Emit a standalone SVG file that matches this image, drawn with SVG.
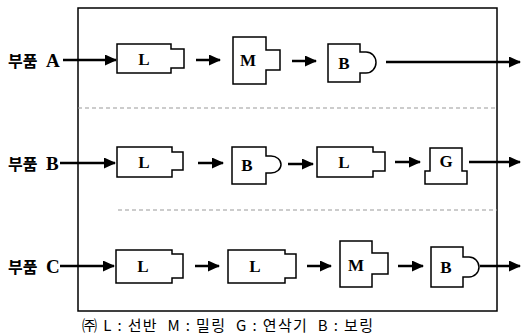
<svg xmlns="http://www.w3.org/2000/svg" width="521" height="336" viewBox="0 0 521 336">
<style>
.box{fill:none;stroke:#000;stroke-width:1.5;stroke-linejoin:miter}
.arr{stroke:#000;stroke-width:2.5;fill:none}
.lbl{font-family:"Liberation Serif",serif;font-weight:bold;font-size:17px;text-anchor:middle;dominant-baseline:central}
.part{font-family:"Noto Sans CJK KR","Liberation Serif",sans-serif;font-weight:bold;font-size:16px;dominant-baseline:central}
.serif{font-family:"Liberation Serif",serif;font-size:19px}
.sep{stroke:#999;stroke-width:1;stroke-dasharray:4 3}
.note{font-family:"Noto Sans CJK KR","Liberation Sans",sans-serif;font-size:15px}
</style>
<defs>
<marker id="ah" markerUnits="userSpaceOnUse" markerWidth="12" markerHeight="11" refX="11" refY="5.5" orient="auto">
<path d="M0,0 L12,5.5 L0,11 z" fill="#000"/>
</marker>
</defs>
<rect id="frame" x="78" y="8" width="419" height="303" fill="none" stroke="#000" stroke-width="1.5"/>
<line class="sep" x1="78" y1="108" x2="497" y2="108"/>
<line class="sep" x1="118" y1="210" x2="497" y2="210"/>

<g id="labels">
<text class="part" x="8" y="60">부품<tspan class="serif" x="46">A</tspan></text>
<text class="part" x="8" y="163">부품<tspan class="serif" x="46">B</tspan></text>
<text class="part" x="8" y="266">부품<tspan class="serif" x="46">C</tspan></text>
</g>

<g id="rowA">
<g id="A_L"><path class="box" d="M117,44 H171 V49 H184 V68 H171 V73 H117 Z"/><text class="lbl" x="144" y="59">L</text></g>
<g id="A_M"><path class="box" d="M233,37 H266 V50 H280 V70 H266 V84 H233 Z"/><text class="lbl" x="248" y="60">M</text></g>
<g id="A_B"><path class="box" d="M328,44 H360 V52 H366 A10,10.5 0 0 1 366,73 H360 V82 H328 Z"/><text class="lbl" x="344" y="63">B</text></g>
</g>

<g id="rowB">
<g id="B_L1"><path class="box" d="M117,147 H172 V152 H183 V170 H172 V177 H117 Z"/><text class="lbl" x="144" y="162">L</text></g>
<g id="B_B"><path class="box" d="M232,147 H266 V156 H271 A10,8.5 0 0 1 271,173 H266 V184 H232 Z"/><text class="lbl" x="247" y="165">B</text></g>
<g id="B_L2"><path class="box" d="M317,147 H373 V152 H385 V171 H373 V177 H317 Z"/><text class="lbl" x="344" y="162">L</text></g>
<g id="B_G"><path class="box" d="M430,148 H462 V171 H467 V184 H425 V171 H430 Z"/><text class="lbl" x="446" y="161">G</text></g>
</g>

<g id="rowC">
<g id="C_L1"><path class="box" d="M116,250 H172 V254 H183 V278 H172 V283 H116 Z"/><text class="lbl" x="143" y="266">L</text></g>
<g id="C_L2"><path class="box" d="M228,250 H285 V254 H296 V278 H285 V283 H228 Z"/><text class="lbl" x="255" y="266">L</text></g>
<g id="C_M"><path class="box" d="M340,241 H372 V253 H388 V274 H372 V287 H340 Z"/><text class="lbl" x="356" y="265">M</text></g>
<g id="C_B"><path class="box" d="M431,247 H463 V257 H469 A10,10 0 0 1 469,277 H463 V287 H431 Z"/><text class="lbl" x="446" y="267">B</text></g>
</g>

<g id="connectors">
<line class="arr" x1="63" y1="60" x2="116" y2="60" marker-end="url(#ah)"/>
<line class="arr" x1="196" y1="60" x2="220" y2="60" marker-end="url(#ah)"/>
<line class="arr" x1="292" y1="61" x2="316" y2="61" marker-end="url(#ah)"/>
<line class="arr" x1="386" y1="62" x2="520" y2="62" marker-end="url(#ah)"/>

<line class="arr" x1="60" y1="163" x2="115" y2="163" marker-end="url(#ah)"/>
<line class="arr" x1="198" y1="163" x2="223" y2="163" marker-end="url(#ah)"/>
<line class="arr" x1="288" y1="164" x2="313" y2="164" marker-end="url(#ah)"/>
<line class="arr" x1="395" y1="162" x2="420" y2="162" marker-end="url(#ah)"/>
<line class="arr" x1="469" y1="162" x2="520" y2="162" marker-end="url(#ah)"/>

<line class="arr" x1="60" y1="266" x2="114" y2="266" marker-end="url(#ah)"/>
<line class="arr" x1="195" y1="266" x2="219" y2="266" marker-end="url(#ah)"/>
<line class="arr" x1="307" y1="266" x2="331" y2="266" marker-end="url(#ah)"/>
<line class="arr" x1="398" y1="266" x2="423" y2="266" marker-end="url(#ah)"/>
<line class="arr" x1="480" y1="266" x2="520" y2="266" marker-end="url(#ah)"/>
</g>

<text class="note" x="82" y="331" xml:space="preserve" textLength="291" lengthAdjust="spacing">㈜ L : 선반  M : 밀링  G : 연삭기  B : 보링</text>
</svg>
